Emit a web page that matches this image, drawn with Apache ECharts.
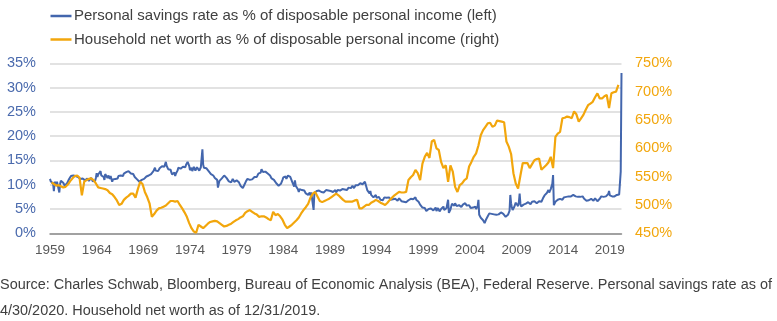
<!DOCTYPE html>
<html>
<head>
<meta charset="utf-8">
<script src="https://cdn.jsdelivr.net/npm/echarts@6/dist/echarts.min.js"></script>
<style>
  html, body { margin: 0; padding: 0; background: #ffffff; }
  #chart { width: 777px; height: 321px; }
</style>
</head>
<body>
<div id="chart"></div>
<script>
// Monthly personal savings rate, % of disposable personal income (Jan 1959 - Apr 2020)
const savingsRate = [
  11.2, 10.7, 10.5, 11.0, 10.2, 8.7, 10.6, 10.9, 10.1, 10.6, 11.0, 10.3,   // 1959
  8.4, 10.2, 10.8, 10.6, 10.9, 10.4, 10.1, 9.8, 10.0, 9.7, 10.3, 10.1,     // 1960
  11.0, 11.4, 11.3, 11.8, 11.6, 12.0, 11.9, 11.6, 12.1, 11.8, 12.2, 11.9,  // 1961
  11.6, 11.4, 11.7, 11.2, 11.5, 11.0, 11.3, 11.1, 11.4, 10.9, 11.2, 11.0,  // 1962
  11.3, 11.0, 10.8, 11.2, 10.9, 11.4, 11.0, 10.7, 10.9, 10.5, 10.8, 11.4,  // 1963
  12.4, 11.6, 12.1, 11.8, 12.5, 12.8, 11.9, 12.3, 12.0, 11.6, 11.0, 12.2,  // 1964
  12.4, 11.8, 11.4, 11.9, 11.6, 11.2, 11.8, 11.2, 10.6, 11.1, 11.4, 11.0,  // 1965
  11.2, 11.5, 10.9, 11.3, 11.8, 11.4, 11.7, 11.9, 11.6, 12.1, 11.8, 12.3,  // 1966
  12.7, 12.4, 12.6, 12.2, 12.5, 12.8, 12.4, 12.7, 12.3, 12.6, 12.4, 12.2,  // 1967
  11.9, 11.6, 11.3, 11.6, 11.1, 11.4, 10.8, 10.6, 10.9, 10.4, 11.0, 10.7,  // 1968
  10.9, 11.2, 11.0, 11.4, 11.7, 11.3, 11.6, 11.9, 12.1, 11.8, 12.2, 12.0,  // 1969
  12.4, 12.8, 13.1, 13.5, 12.9, 13.3, 13.0, 12.8, 13.2, 13.4, 13.1, 13.6,  // 1970
  13.8, 13.5, 14.0, 13.7, 14.2, 14.7, 13.9, 13.5, 13.2, 13.4, 12.9, 13.1,  // 1971
  12.6, 12.1, 11.7, 12.2, 12.5, 11.8, 12.3, 12.7, 12.9, 13.5, 13.2, 13.6,  // 1972
  13.3, 13.1, 13.5, 13.7, 13.4, 13.9, 13.6, 14.1, 14.4, 14.7, 14.3, 13.9,  // 1973
  13.0, 13.2, 13.5, 12.8, 13.1, 13.7, 13.4, 12.9, 13.2, 13.6, 13.9, 13.3,  // 1974
  12.9, 13.2, 13.6, 13.3, 17.3, 14.1, 13.5, 13.2, 13.6, 13.4, 13.0, 13.3,  // 1975
  12.8, 12.4, 12.7, 12.2, 12.0, 12.3, 11.9, 11.6, 11.4, 11.7, 11.2, 11.0,  // 1976
  9.4, 10.2, 10.8, 10.5, 11.0, 11.3, 11.1, 11.6, 11.9, 12.1, 11.7, 11.4,   // 1977
  11.3, 11.0, 10.7, 11.1, 10.8, 10.5, 10.9, 11.2, 10.8, 10.6, 11.0, 10.7,  // 1978
  10.9, 11.1, 10.8, 10.5, 10.2, 9.8, 9.4, 9.7, 9.3, 9.6, 10.0, 10.3,       // 1979
  10.7, 10.9, 11.2, 11.5, 11.2, 11.0, 11.3, 10.9, 11.1, 11.4, 11.0, 11.6,  // 1980
  11.5, 11.8, 11.6, 12.0, 12.3, 12.1, 12.7, 12.5, 13.2, 12.9, 12.6, 12.8,  // 1981
  12.4, 12.7, 12.5, 12.8, 12.3, 12.6, 12.2, 11.9, 11.6, 11.3, 11.5, 11.2,  // 1982
  11.0, 10.6, 10.8, 10.3, 10.0, 10.4, 9.8, 9.5, 9.9, 10.2, 10.6, 11.0,     // 1983
  11.5, 11.8, 11.4, 11.7, 11.2, 11.5, 11.9, 12.1, 11.8, 11.6, 11.2, 11.4,  // 1984
  10.4, 10.0, 9.6, 10.9, 9.8, 9.4, 9.7, 9.0, 8.5, 9.1, 9.3, 9.0,           // 1985
  8.9, 8.6, 9.1, 8.8, 8.5, 8.2, 8.6, 8.3, 7.9, 8.1, 8.4, 7.8,              // 1986
  8.4, 8.2, 8.0, 4.8, 8.3, 8.6, 8.4, 8.7, 8.3, 8.6, 8.8, 8.5,              // 1987
  8.7, 8.5, 8.9, 8.6, 8.4, 8.8, 8.6, 8.9, 8.7, 8.5, 8.8, 8.6,              // 1988
  8.9, 8.7, 9.0, 8.8, 8.5, 8.8, 8.6, 8.9, 8.4, 8.7, 8.9, 8.6,              // 1989
  8.5, 8.8, 8.6, 8.9, 9.1, 8.8, 9.2, 9.0, 9.3, 9.1, 8.9, 9.2,              // 1990
  9.4, 9.2, 9.5, 9.3, 9.6, 9.8, 9.5, 9.3, 9.7, 9.9, 9.6, 9.8,              // 1991
  9.9, 10.1, 9.8, 10.3, 10.0, 10.4, 10.1, 9.7, 10.2, 10.6, 10.3, 10.8,     // 1992
  8.9, 9.3, 8.6, 8.2, 8.7, 7.9, 7.6, 7.8, 7.4, 7.2, 7.6, 7.9,              // 1993
  7.3, 7.0, 7.2, 7.5, 7.1, 6.9, 7.3, 7.0, 6.8, 7.2, 7.4, 7.1,              // 1994
  7.6, 7.3, 7.5, 7.1, 7.4, 7.2, 6.9, 7.1, 6.8, 7.0, 6.7, 6.9,              // 1995
  7.1, 6.8, 7.0, 6.7, 6.9, 7.2, 6.8, 7.0, 6.6, 6.9, 6.7, 6.5,              // 1996
  6.8, 6.6, 6.4, 6.7, 6.5, 6.8, 6.6, 6.9, 7.1, 7.4, 7.2, 7.0,              // 1997
  7.3, 7.1, 7.4, 6.9, 6.6, 6.8, 6.5, 6.2, 5.9, 5.6, 5.8, 5.3,              // 1998
  5.1, 4.9, 5.2, 4.8, 4.6, 4.9, 4.7, 5.0, 4.6, 4.8, 5.1, 4.9,              // 1999
  5.1, 4.7, 4.5, 4.9, 5.3, 4.6, 4.8, 5.2, 4.9, 4.5, 4.7, 5.0,              // 2000
  5.4, 5.1, 5.5, 4.8, 4.5, 4.7, 5.2, 6.1, 6.9, 4.2, 4.6, 4.9,              // 2001
  5.5, 6.1, 6.3, 6.0, 5.7, 6.2, 5.8, 5.6, 5.9, 5.5, 5.8, 5.6,              // 2002
  5.7, 5.4, 5.6, 5.9, 5.5, 5.8, 6.2, 6.0, 5.7, 5.9, 5.6, 5.8,              // 2003
  5.4, 5.2, 5.5, 5.1, 5.3, 5.6, 5.2, 5.5, 5.0, 5.3, 5.6, 6.9,              // 2004
  3.8, 3.4, 3.2, 2.9, 3.1, 2.7, 2.4, 2.1, 2.5, 2.9, 3.2, 3.5,              // 2005
  3.8, 4.1, 3.9, 4.2, 4.0, 3.7, 4.1, 3.9, 4.2, 4.0, 3.8, 4.1,              // 2006
  3.7, 3.9, 4.2, 4.0, 4.3, 4.5, 4.2, 4.0, 3.8, 3.6, 3.4, 3.7,              // 2007
  3.5, 3.8, 4.0, 4.6, 7.9, 6.2, 5.3, 4.8, 5.0, 5.4, 5.8, 6.3,              // 2008
  6.5, 5.9, 5.6, 6.4, 8.2, 6.1, 5.5, 5.3, 5.7, 5.9, 6.0, 5.8,              // 2009
  6.1, 6.3, 5.9, 6.4, 6.6, 6.3, 6.0, 6.2, 6.5, 6.1, 6.3, 6.6,              // 2010
  6.8, 6.5, 6.2, 6.0, 6.3, 6.6, 6.4, 6.7, 6.5, 6.9, 7.2, 7.5,              // 2011
  7.8, 7.6, 8.1, 8.3, 8.6, 8.9, 8.4, 8.7, 9.1, 9.5, 10.2, 12.0,            // 2012
  5.8, 6.2, 6.5, 6.3, 6.6, 6.9, 6.7, 6.9, 7.1, 6.8, 7.0, 6.9,              // 2013
  7.2, 7.4, 7.6, 7.3, 7.5, 7.7, 7.4, 7.6, 7.3, 7.5, 7.6, 7.8,              // 2014
  7.6, 7.9, 7.7, 7.8, 7.6, 7.4, 7.7, 7.5, 7.6, 7.8, 7.5, 7.7,              // 2015
  7.4, 7.6, 7.3, 7.1, 6.9, 7.0, 6.7, 6.9, 6.6, 6.8, 6.7, 6.9,              // 2016
  7.1, 7.3, 6.9, 6.7, 7.0, 7.2, 6.9, 6.8, 6.6, 7.0, 6.8, 7.1,              // 2017
  7.4, 7.6, 7.5, 7.3, 7.5, 7.7, 7.4, 7.6, 7.3, 7.8, 8.1, 8.7,              // 2018
  7.8, 8.0, 7.7, 7.6, 7.8, 7.9, 7.6, 7.8, 7.7, 7.9, 7.8, 7.7,              // 2019
  8.0, 8.3, 12.7, 33.0                                                     // 2020
];

// Quarterly household net worth, % of disposable personal income (1959Q1 - 2019Q4)
const netWorth = [
  540, 537, 534, 535,  533, 531, 532, 536,  542, 547, 551, 552,  548, 517, 541, 544,   // 1959-62
  546, 547, 544, 538,  531, 530, 529, 528,  526, 521, 519, 514,  508, 500, 502, 509,   // 1963-66
  513, 516, 520, 520,  513, 528, 541, 537,  523, 514, 503, 479,  484, 490, 494, 495,   // 1967-70
  497, 499, 503, 507,  507, 506, 507, 500,  494, 487, 479, 468,  459, 453, 451, 465,   // 1971-74
  462, 459, 463, 467,  470, 471, 472, 471,  468, 465, 462, 463,  465, 467, 470, 473,   // 1975-78
  475, 478, 480, 486,  489, 491, 488, 485,  483, 479, 480, 480,  478, 475, 473, 488,   // 1979-82
  482, 484, 480, 474,  465, 459, 462, 465,  469, 473, 478, 485,  491, 496, 502, 513,   // 1983-86
  520, 523, 515, 507,  505, 507, 509, 511,  514, 517, 520, 517,  513, 509, 506, 506,   // 1987-90
  506, 506, 508, 509,  494, 494, 497, 500,  500, 504, 506, 509,  507, 504, 502, 500,   // 1991-94
  504, 509, 513, 517,  520, 523, 522, 522,  523, 544, 549, 553,  562, 556, 544, 573,   // 1995-98
  585, 592, 583, 612,  615, 600, 597, 576,  565, 570, 541, 570,  559, 532, 523, 535,   // 1999-02
  538, 544, 547, 568,  576, 585, 591, 605,  623, 632, 638, 644,  645, 638, 640, 649,   // 2003-06
  648, 647, 646, 612,  603, 590, 556, 538,  529, 552, 574, 574,  574, 565, 572, 579,   // 2007-10
  581, 582, 562, 566,  570, 575, 585, 565,  620, 626, 629, 653,  654, 656, 655, 653,   // 2011-14
  665, 660, 647, 653,  659, 668, 676, 679,  682, 690, 697, 688,  688, 692, 694, 671,   // 2015-18
  697, 699, 700, 712                                                                  // 2019
];

const startYear = 1959;
// Month categories "YYYY-MM", one per savings-rate observation
const months = savingsRate.map((_, i) => {
  const y = startYear + Math.floor(i / 12);
  const m = (i % 12) + 1;
  return y + '-' + (m < 10 ? '0' + m : m);
});
// Net worth observations sit on the last month of each quarter
const netWorthMonths = netWorth.map((_, q) => {
  const y = startYear + Math.floor(q / 4);
  const m = (q % 4) * 3 + 3;
  return y + '-' + (m < 10 ? '0' + m : m);
});
const xTickYears = [1959, 1964, 1969, 1974, 1979, 1984, 1989, 1994, 1999, 2004, 2009, 2014, 2019];
const leftTicks = [0, 5, 10, 15, 20, 25, 30, 35];
const rightTicks = [450, 500, 550, 600, 650, 700, 750];

const seriesNames = [
  'Personal savings rate as % of disposable personal income (left)',
  'Household net worth as % of disposable personal income (right)'
];
const sourceLines = [
  'Source: Charles Schwab, Bloomberg, Bureau of Economic Analysis (BEA), Federal Reserve. Personal savings rate as of',
  '4/30/2020. Household net worth as of 12/31/2019.'
];

const BLUE = '#4366ad';
const ORANGE = '#f2a60c';
const FONT = '"Liberation Sans", Arial, sans-serif';

const chart = echarts.init(document.getElementById('chart'), null, { renderer: 'canvas' });

// Legend key: a short line swatch followed by the series name
function legendEntry(y, color, label) {
  return [
    {
      type: 'line',
      shape: { x1: 50.5, y1: y, x2: 71.5, y2: y },
      style: { stroke: color, lineWidth: 2.5 }
    },
    {
      type: 'text',
      x: 74,
      y: y,
      style: {
        text: label, font: '15px ' + FONT, fill: '#404040',
        textVerticalAlign: 'middle', verticalAlign: 'middle'
      }
    }
  ];
}

chart.setOption({
  animation: false,
  backgroundColor: '#ffffff',
  textStyle: { fontFamily: FONT },
  grid: { left: 50, top: 63.3, width: 571.5, height: 170, containLabel: false },
  xAxis: {
    type: 'category',
    data: months,
    boundaryGap: false,
    axisLine: { show: true, lineStyle: { color: '#8c8c8c', width: 1.5 } },
    axisTick: { show: false },
    splitLine: { show: false },
    axisLabel: {
      color: '#595959',
      fontFamily: FONT,
      fontSize: 13.5,
      margin: 10,
      interval: (idx, val) => val.slice(5) === '01' && xTickYears.indexOf(+val.slice(0, 4)) !== -1,
      formatter: (val) => val.slice(0, 4)
    }
  },
  yAxis: [
    {
      type: 'value',
      min: leftTicks[0],
      max: leftTicks[leftTicks.length - 1],
      interval: leftTicks[1] - leftTicks[0],
      axisLine: { show: false },
      axisTick: { show: false },
      splitLine: { show: true, lineStyle: { color: '#d9d9d9', width: 1.5 } },
      axisLabel: { color: '#4a6aad', fontFamily: FONT, fontSize: 14.5, margin: 14, formatter: '{value}%' }
    },
    {
      type: 'value',
      min: rightTicks[0],
      max: rightTicks[rightTicks.length - 1],
      interval: rightTicks[1] - rightTicks[0],
      axisLine: { show: false },
      axisTick: { show: false },
      splitLine: { show: false },
      axisLabel: { color: ORANGE, fontFamily: FONT, fontSize: 14.5, margin: 13.5, formatter: '{value}%' }
    }
  ],
  series: [
    {
      name: seriesNames[0],
      type: 'line',
      yAxisIndex: 0,
      data: savingsRate,
      showSymbol: false,
      symbol: 'none',
      lineStyle: { color: BLUE, width: 2 },
      itemStyle: { color: BLUE },
      z: 2
    },
    {
      name: seriesNames[1],
      type: 'line',
      yAxisIndex: 1,
      data: netWorth.map((v, i) => [netWorthMonths[i], v]),
      showSymbol: false,
      symbol: 'none',
      lineStyle: { color: ORANGE, width: 2.2 },
      itemStyle: { color: ORANGE },
      z: 3
    }
  ],
  graphic: [
    ...legendEntry(16, BLUE, seriesNames[0]),
    ...legendEntry(39.5, ORANGE, seriesNames[1]),
    {
      type: 'text',
      x: 0,
      y: 285,
      style: { text: sourceLines[0], font: '14.45px ' + FONT, fill: '#404040', textVerticalAlign: 'middle', verticalAlign: 'middle' }
    },
    {
      type: 'text',
      x: 0,
      y: 311,
      style: { text: sourceLines[1], font: '14.45px ' + FONT, fill: '#404040', textVerticalAlign: 'middle', verticalAlign: 'middle' }
    }
  ]
});
</script>
</body>
</html>
